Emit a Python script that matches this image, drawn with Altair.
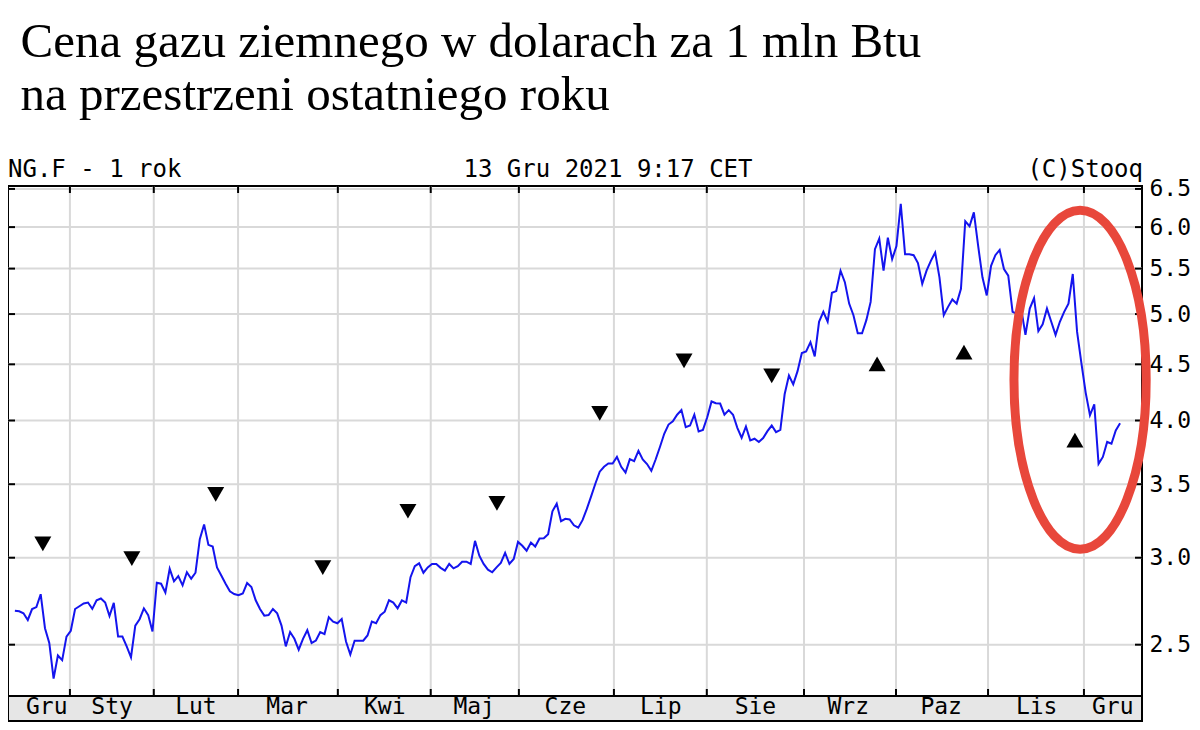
import altair as alt
import pandas as pd

# ---------------- data ----------------
# NG.F daily closing prices, one value per trading day (Dec 2020 -> Dec 2021)
prices = [
    2.684, 2.681, 2.670, 2.633, 2.694, 2.705, 2.779, 2.588, 2.509, 2.328,
    2.444, 2.420, 2.543, 2.574, 2.694, 2.710, 2.726, 2.731, 2.695, 2.744,
    2.754, 2.731, 2.655, 2.729, 2.543, 2.543, 2.491, 2.435, 2.602, 2.637,
    2.698, 2.660, 2.570, 2.847, 2.841, 2.789, 2.931, 2.855, 2.886, 2.831,
    2.910, 2.871, 2.907, 3.119, 3.217, 3.082, 3.071, 2.940, 2.890, 2.841,
    2.796, 2.780, 2.773, 2.783, 2.845, 2.821, 2.744, 2.694, 2.657, 2.660,
    2.694, 2.670, 2.602, 2.491, 2.567, 2.531, 2.474, 2.531, 2.577, 2.509,
    2.522, 2.567, 2.556, 2.648, 2.624, 2.615, 2.638, 2.517, 2.449, 2.521,
    2.521, 2.521, 2.549, 2.624, 2.615, 2.660, 2.679, 2.744, 2.731, 2.698,
    2.744, 2.731, 2.880, 2.947, 2.965, 2.907, 2.940, 2.961, 2.961, 2.937,
    2.920, 2.961, 2.934, 2.947, 2.975, 2.975, 2.961, 3.108, 3.013, 2.961,
    2.926, 2.910, 2.940, 2.967, 3.030, 2.961, 2.992, 3.101, 3.076, 3.044,
    3.097, 3.071, 3.123, 3.125, 3.151, 3.307, 3.360, 3.239, 3.255, 3.251,
    3.211, 3.195, 3.246, 3.323, 3.412, 3.505, 3.593, 3.630, 3.655, 3.655,
    3.706, 3.630, 3.586, 3.689, 3.674, 3.753, 3.686, 3.651, 3.600, 3.686,
    3.784, 3.890, 3.966, 3.994, 4.049, 4.088, 3.944, 3.958, 4.049, 3.909,
    3.922, 4.027, 4.163, 4.148, 4.145, 4.049, 4.088, 4.049, 3.939, 3.858,
    3.950, 3.837, 3.850, 3.824, 3.855, 3.912, 3.958, 3.904, 3.922, 4.226,
    4.396, 4.315, 4.436, 4.608, 4.624, 4.714, 4.576, 4.920, 5.023, 4.920,
    5.228, 5.247, 5.476, 5.346, 5.111, 4.988, 4.803, 4.803, 4.937, 5.129,
    5.728, 5.856, 5.476, 5.868, 5.610, 5.767, 6.301, 5.669, 5.669, 5.657,
    5.564, 5.327, 5.476, 5.590, 5.689, 5.401, 4.988, 5.076, 5.156, 5.111,
    5.272, 6.074, 6.011, 6.188, 5.767, 5.401, 5.199, 5.533, 5.657, 5.719,
    5.495, 5.419, 5.023, 5.003, 5.058, 4.786, 5.058, 5.171, 4.825, 4.893,
    5.058, 4.920, 4.786, 4.920, 5.023, 5.111, 5.438, 4.819, 4.513, 4.241,
    4.044, 4.137, 3.653, 3.706, 3.824, 3.810, 3.917, 3.977,
]
days = list(range(len(prices)))

# triangle markers (trading-day position, price level)
down_days = [6.5, 27.2, 46.7, 71.6, 91.4, 112.1, 136.0, 155.6, 176.0]
down_vals = [3.089, 2.994, 3.426, 2.939, 3.307, 3.362, 4.060, 4.532, 4.393]
up_days = [200.5, 220.7, 246.5]
up_vals = [4.504, 4.617, 3.839]

# month boundaries and labels (trading-day positions)
month_bounds = [12.8, 32.3, 51.9, 75.1, 96.7, 117.2, 139.3, 160.9, 183.5, 204.9, 226.3, 248.6]
month_names = ["Gru", "Sty", "Lut", "Mar", "Kwi", "Maj", "Cze", "Lip", "Sie", "Wrz", "Paz", "Lis", "Gru"]
month_label_pos = [7.4, 22.6, 42.1, 63.3, 86.0, 106.8, 128.0, 150.2, 172.2, 193.8, 215.4, 237.6, 255.3]

y_ticks = [2.5, 3.0, 3.5, 4.0, 4.5, 5.0, 5.5, 6.0, 6.5]

# highlighted area (red ellipse centre)
highlight_day = [247.7]
highlight_val = [4.357]

title_lines = ["Cena gazu ziemnego w dolarach za 1 mln Btu", "na przestrzeni ostatniego roku"]
header_left = "NG.F - 1 rok"
header_mid = "13 Gru 2021 9:17 CET"
header_right = "(C)Stooq"

# ---------------- chart ----------------
W, H = 1134, 510
TOP = 178
BAND = 25
MONO = "DejaVu Sans Mono"
SERIF = "Liberation Serif"

df_price = pd.DataFrame({"day": days, "price": prices})
df_down = pd.DataFrame({"day": down_days, "price": down_vals})
df_up = pd.DataFrame({"day": up_days, "price": up_vals})
df_bounds = pd.DataFrame({"b": month_bounds})
df_labels = pd.DataFrame({"pos": month_label_pos, "name": month_names})
df_yt = pd.DataFrame({"v": y_ticks})
df_hl = pd.DataFrame({"day": highlight_day, "price": highlight_val})
one = pd.DataFrame({"k": [0]})

xs = alt.Scale(domain=[-1.6, 262.1], nice=False, zero=False)
ys = alt.Scale(type="log", domain=[2.245, 6.54], nice=False, zero=False)
y_axis = alt.Axis(
    orient="right", values=y_ticks, format=".1f", grid=False, ticks=False,
    domain=False, labelFont=MONO, labelFontSize=23, labelColor="black",
    labelPadding=7, title=None, labelOverlap=False, labelFlush=False,
)

vgrid = alt.Chart(df_bounds).mark_rule(color="#d9d9d9", strokeWidth=2).encode(
    x=alt.X("b:Q", scale=xs, axis=None)
)
hgrid = alt.Chart(df_yt).mark_rule(color="#d9d9d9", strokeWidth=2).encode(
    y=alt.Y("v:Q", scale=ys, axis=y_axis)
)
left_ticks = alt.Chart(df_yt).mark_rule(color="black", strokeWidth=2).encode(
    y=alt.Y("v:Q", scale=ys, axis=y_axis), x=alt.value(0), x2=alt.value(7)
)
right_ticks = alt.Chart(df_yt).mark_rule(color="black", strokeWidth=2).encode(
    y=alt.Y("v:Q", scale=ys, axis=y_axis), x=alt.value(W - 7), x2=alt.value(W)
)
top_ticks = alt.Chart(df_bounds).mark_rule(color="black", strokeWidth=2).encode(
    x=alt.X("b:Q", scale=xs, axis=None), y=alt.value(0), y2=alt.value(7)
)
bottom_ticks = alt.Chart(df_bounds).mark_rule(color="black", strokeWidth=2).encode(
    x=alt.X("b:Q", scale=xs, axis=None), y=alt.value(H - 7), y2=alt.value(H)
)
band = alt.Chart(one).mark_rect(fill="#e6e6e6", stroke="black", strokeWidth=2).encode(
    x=alt.value(0), x2=alt.value(W), y=alt.value(H), y2=alt.value(H + BAND)
)
month_text = alt.Chart(df_labels).mark_text(
    font=MONO, fontSize=23, color="black", baseline="alphabetic", align="center"
).encode(
    x=alt.X("pos:Q", scale=xs, axis=None), y=alt.value(H + 18), text="name:N"
)
line = alt.Chart(df_price).mark_line(color="#1414ee", strokeWidth=2).encode(
    x=alt.X("day:Q", scale=xs, axis=None),
    y=alt.Y("price:Q", scale=ys, axis=y_axis),
)
tri_down = alt.Chart(df_down).mark_point(
    shape="triangle-down", filled=True, color="black", size=289, opacity=1
).encode(
    x=alt.X("day:Q", scale=xs, axis=None), y=alt.Y("price:Q", scale=ys, axis=y_axis)
)
tri_up = alt.Chart(df_up).mark_point(
    shape="triangle-up", filled=True, color="black", size=289, opacity=1
).encode(
    x=alt.X("day:Q", scale=xs, axis=None), y=alt.Y("price:Q", scale=ys, axis=y_axis)
)
ellipse_path = (
    "M 0 -1 C 0.2154 -1 0.39 -0.5523 0.39 0 C 0.39 0.5523 0.2154 1 0 1 "
    "C -0.2154 1 -0.39 0.5523 -0.39 0 C -0.39 -0.5523 -0.2154 -1 0 -1 Z"
)
ellipse = alt.Chart(df_hl).mark_point(
    shape=ellipse_path, filled=False, stroke="#e8473b", strokeWidth=9,
    size=339 * 339, opacity=1
).encode(
    x=alt.X("day:Q", scale=xs, axis=None), y=alt.Y("price:Q", scale=ys, axis=y_axis)
)

def label(txt, x, y, font, size, align="left"):
    return alt.Chart(one).mark_text(
        text=txt, font=font, fontSize=size, color="black",
        align=align, baseline="alphabetic"
    ).encode(x=alt.value(x), y=alt.value(y))

texts = [
    label(title_lines[0], 12.5, -129, SERIF, 49),
    label(title_lines[1], 12.5, -76, SERIF, 49),
    label(header_left, 0, -9, MONO, 24),
    label(header_mid, 600, -9, MONO, 24, "center"),
    label(header_right, W + 1, -9, MONO, 24, "right"),
]

chart = alt.layer(
    vgrid, hgrid, left_ticks, right_ticks, top_ticks, bottom_ticks,
    band, month_text, line, tri_down, tri_up, ellipse, *texts
).properties(
    width=W, height=H,
    autosize=alt.AutoSizeParams(type="none"),
    padding={"left": 0, "top": TOP, "right": 50, "bottom": BAND + 1},
    background="white",
).configure_view(stroke="black", strokeWidth=2)

chart.save("out.html", embed_options={"renderer": "svg", "actions": False})
